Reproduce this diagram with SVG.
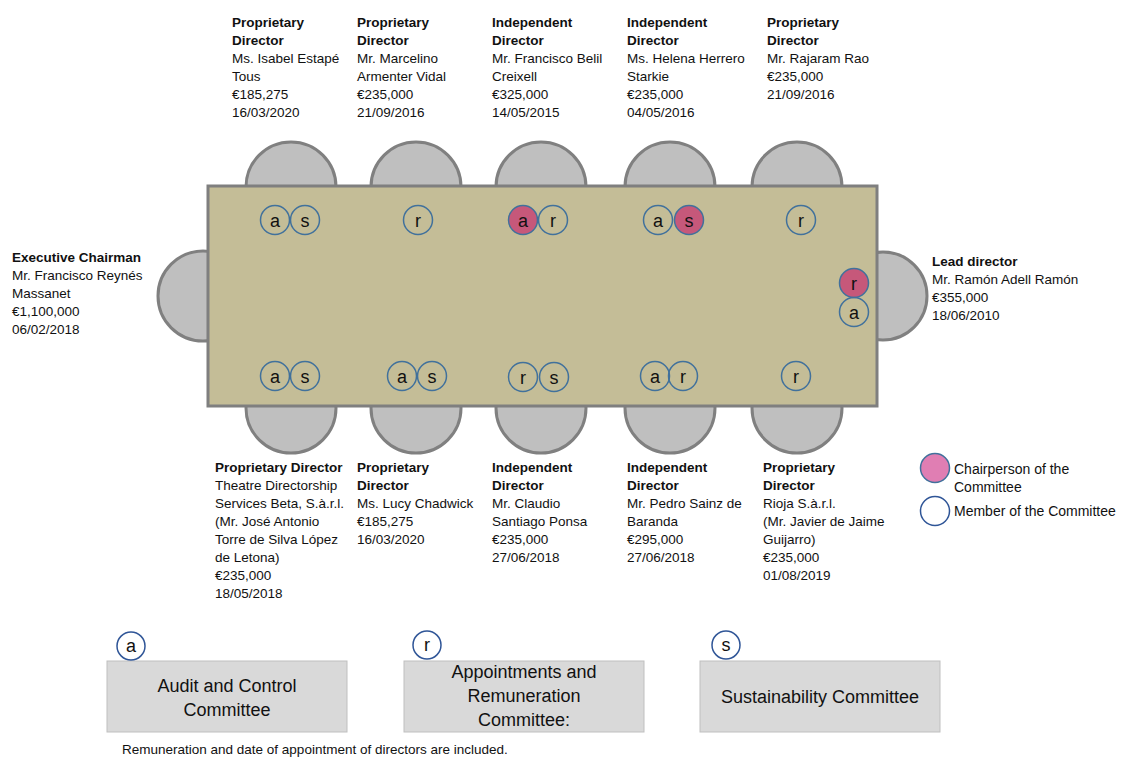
<svg xmlns="http://www.w3.org/2000/svg" width="1121" height="758" viewBox="0 0 1121 758">
<defs>
<style>
text{font-family:"Liberation Sans",Arial,sans-serif;fill:#111;}
.t{font-size:13.5px;}
.b{font-weight:bold;}
.chair{fill:#BFBFBF;stroke:#808080;stroke-width:3;}
.table{fill:#C4BD97;stroke:#7F7F7F;stroke-width:3;}
.m{fill:none;stroke:#41719C;stroke-width:1.5;}
.c{fill:#C6587A;stroke:#41719C;stroke-width:1.5;}
.bl{font-size:18px;text-anchor:middle;}
.box{fill:#D9D9D9;stroke:#BFBFBF;stroke-width:1;}
.bt{font-size:18px;text-anchor:middle;}
.key{fill:#fff;stroke:#2F5597;stroke-width:1.5;}
.leg{font-size:14px;}
</style>
</defs>
<rect width="1121" height="758" fill="#fff"/>
<g id="chairs">
<circle class="chair" cx="291" cy="187" r="45"/>
<circle class="chair" cx="416" cy="187" r="45"/>
<circle class="chair" cx="541" cy="187" r="45"/>
<circle class="chair" cx="670" cy="187" r="45"/>
<circle class="chair" cx="797" cy="187" r="45"/>
<circle class="chair" cx="291" cy="408" r="45"/>
<circle class="chair" cx="416" cy="408" r="45"/>
<circle class="chair" cx="541" cy="408" r="45"/>
<circle class="chair" cx="670" cy="408" r="45"/>
<circle class="chair" cx="797" cy="408" r="45"/>
<circle class="chair" cx="203" cy="296" r="45"/>
<circle class="chair" cx="883" cy="296" r="44"/>
</g>
<g id="table"><rect class="table" x="208" y="186" width="669" height="220"/></g>
<g id="connectors"></g>

<g id="d-estape">
<text class="t" y="27"><tspan class="b" x="232">Proprietary</tspan><tspan class="b" x="232" dy="18">Director</tspan><tspan x="232" dy="18">Ms. Isabel Estapé</tspan><tspan x="232" dy="18">Tous</tspan><tspan x="232" dy="18">€185,275</tspan><tspan x="232" dy="18">16/03/2020</tspan></text>
<circle class="m" cx="275" cy="220" r="14.5"/><text class="bl" x="275" y="226.5">a</text>
<circle class="m" cx="305" cy="220" r="14.5"/><text class="bl" x="305" y="226.5">s</text>
</g>
<g id="d-armenter">
<text class="t" y="27"><tspan class="b" x="357">Proprietary</tspan><tspan class="b" x="357" dy="18">Director</tspan><tspan x="357" dy="18">Mr. Marcelino</tspan><tspan x="357" dy="18">Armenter Vidal</tspan><tspan x="357" dy="18">€235,000</tspan><tspan x="357" dy="18">21/09/2016</tspan></text>
<circle class="m" cx="418" cy="220" r="14.5"/><text class="bl" x="418" y="226.5">r</text>
</g>
<g id="d-belil">
<text class="t" y="27"><tspan class="b" x="492">Independent</tspan><tspan class="b" x="492" dy="18">Director</tspan><tspan x="492" dy="18">Mr. Francisco Belil</tspan><tspan x="492" dy="18">Creixell</tspan><tspan x="492" dy="18">€325,000</tspan><tspan x="492" dy="18">14/05/2015</tspan></text>
<circle class="c" cx="523" cy="220" r="14.5"/><text class="bl" x="523" y="226.5">a</text>
<circle class="m" cx="553" cy="220" r="14.5"/><text class="bl" x="553" y="226.5">r</text>
</g>
<g id="d-herrero">
<text class="t" y="27"><tspan class="b" x="627">Independent</tspan><tspan class="b" x="627" dy="18">Director</tspan><tspan x="627" dy="18">Ms. Helena Herrero</tspan><tspan x="627" dy="18">Starkie</tspan><tspan x="627" dy="18">€235,000</tspan><tspan x="627" dy="18">04/05/2016</tspan></text>
<circle class="m" cx="658" cy="220" r="14.5"/><text class="bl" x="658" y="226.5">a</text>
<circle class="c" cx="689" cy="220" r="14.5"/><text class="bl" x="689" y="226.5">s</text>
</g>
<g id="d-rao">
<text class="t" y="27"><tspan class="b" x="767">Proprietary</tspan><tspan class="b" x="767" dy="18">Director</tspan><tspan x="767" dy="18">Mr. Rajaram Rao</tspan><tspan x="767" dy="18">€235,000</tspan><tspan x="767" dy="18">21/09/2016</tspan></text>
<circle class="m" cx="801" cy="220" r="14.5"/><text class="bl" x="801" y="226.5">r</text>
</g>
<g id="d-reynes">
<text class="t" y="262"><tspan class="b" x="12">Executive Chairman</tspan><tspan x="12" dy="18">Mr. Francisco Reynés</tspan><tspan x="12" dy="18">Massanet</tspan><tspan x="12" dy="18">€1,100,000</tspan><tspan x="12" dy="18">06/02/2018</tspan></text>
</g>
<g id="d-adell">
<text class="t" y="266"><tspan class="b" x="932">Lead director</tspan><tspan x="932" dy="18">Mr. Ramón Adell Ramón</tspan><tspan x="932" dy="18">€355,000</tspan><tspan x="932" dy="18">18/06/2010</tspan></text>
<circle class="c" cx="854" cy="283" r="14.5"/><text class="bl" x="854" y="289.5">r</text>
<circle class="m" cx="854" cy="312" r="14.5"/><text class="bl" x="854" y="318.5">a</text>
</g>
<g id="d-theatre">
<text class="t" y="472"><tspan class="b" x="215">Proprietary Director</tspan><tspan x="215" dy="18">Theatre Directorship</tspan><tspan x="215" dy="18">Services Beta, S.à.r.l.</tspan><tspan x="215" dy="18">(Mr. José Antonio</tspan><tspan x="215" dy="18">Torre de Silva López</tspan><tspan x="215" dy="18">de Letona)</tspan><tspan x="215" dy="18">€235,000</tspan><tspan x="215" dy="18">18/05/2018</tspan></text>
<circle class="m" cx="275" cy="376" r="14.5"/><text class="bl" x="275" y="382.5">a</text>
<circle class="m" cx="305" cy="376" r="14.5"/><text class="bl" x="305" y="382.5">s</text>
</g>
<g id="d-chadwick">
<text class="t" y="472"><tspan class="b" x="357">Proprietary</tspan><tspan class="b" x="357" dy="18">Director</tspan><tspan x="357" dy="18">Ms. Lucy Chadwick</tspan><tspan x="357" dy="18">€185,275</tspan><tspan x="357" dy="18">16/03/2020</tspan></text>
<circle class="m" cx="402" cy="376" r="14.5"/><text class="bl" x="402" y="382.5">a</text>
<circle class="m" cx="432" cy="376" r="14.5"/><text class="bl" x="432" y="382.5">s</text>
</g>
<g id="d-santiago">
<text class="t" y="472"><tspan class="b" x="492">Independent</tspan><tspan class="b" x="492" dy="18">Director</tspan><tspan x="492" dy="18">Mr. Claudio</tspan><tspan x="492" dy="18">Santiago Ponsa</tspan><tspan x="492" dy="18">€235,000</tspan><tspan x="492" dy="18">27/06/2018</tspan></text>
<circle class="m" cx="523" cy="377" r="14.5"/><text class="bl" x="523" y="383.5">r</text>
<circle class="m" cx="554" cy="377" r="14.5"/><text class="bl" x="554" y="383.5">s</text>
</g>
<g id="d-sainz">
<text class="t" y="472"><tspan class="b" x="627">Independent</tspan><tspan class="b" x="627" dy="18">Director</tspan><tspan x="627" dy="18">Mr. Pedro Sainz de</tspan><tspan x="627" dy="18">Baranda</tspan><tspan x="627" dy="18">€295,000</tspan><tspan x="627" dy="18">27/06/2018</tspan></text>
<circle class="m" cx="655" cy="376" r="14.5"/><text class="bl" x="655" y="382.5">a</text>
<circle class="m" cx="683" cy="376" r="14.5"/><text class="bl" x="683" y="382.5">r</text>
</g>
<g id="d-rioja">
<text class="t" y="472"><tspan class="b" x="763">Proprietary</tspan><tspan class="b" x="763" dy="18">Director</tspan><tspan x="763" dy="18">Rioja S.à.r.l.</tspan><tspan x="763" dy="18">(Mr. Javier de Jaime</tspan><tspan x="763" dy="18">Guijarro)</tspan><tspan x="763" dy="18">€235,000</tspan><tspan x="763" dy="18">01/08/2019</tspan></text>
<circle class="m" cx="796" cy="376" r="14.5"/><text class="bl" x="796" y="382.5">r</text>
</g>

<g id="legend">
<circle cx="935" cy="468" r="14.5" fill="#E07EB3" stroke="#41719C" stroke-width="1.5"/>
<text class="leg" y="474"><tspan x="954">Chairperson of the</tspan><tspan x="954" dy="18">Committee</tspan></text>
<circle class="key" cx="935" cy="511" r="14.5"/>
<text class="leg" x="954" y="516">Member of the Committee</text>
</g>

<g id="committee-a">
<rect class="box" x="107" y="661" width="240" height="71"/>
<text class="bt" y="692"><tspan x="227">Audit and Control</tspan><tspan x="227" dy="24">Committee</tspan></text>
<circle class="key" cx="131" cy="646" r="14"/><text class="bl" x="131" y="652">a</text>
</g>
<g id="committee-r">
<rect class="box" x="404" y="661" width="240" height="71"/>
<text class="bt" y="678"><tspan x="524">Appointments and</tspan><tspan x="524" dy="24">Remuneration</tspan><tspan x="524" dy="24">Committee:</tspan></text>
<circle class="key" cx="427" cy="645" r="14"/><text class="bl" x="427" y="651">r</text>
</g>
<g id="committee-s">
<rect class="box" x="700" y="661" width="240" height="71"/>
<text class="bt" x="820" y="703">Sustainability Committee</text>
<circle class="key" cx="726" cy="645" r="14"/><text class="bl" x="726" y="651">s</text>
</g>

<text x="122" y="754" style="font-size:13.5px">Remuneration and date of appointment of directors are included.</text>
</svg>
